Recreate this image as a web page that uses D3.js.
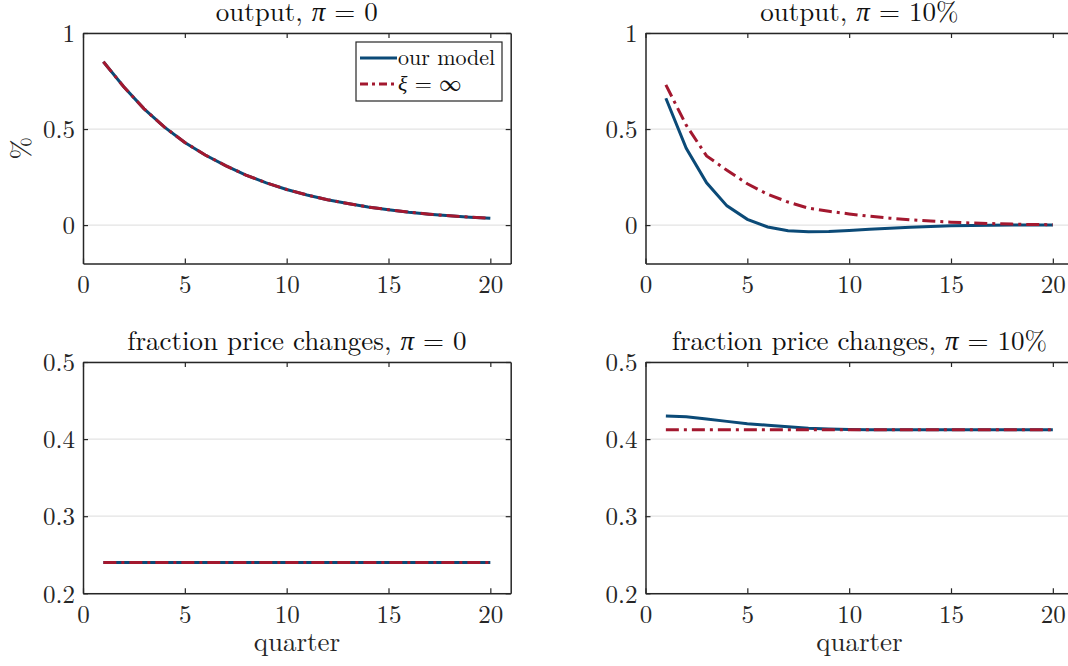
<!DOCTYPE html>
<html>
<head>
<meta charset="utf-8">
<script src="https://cdn.jsdelivr.net/npm/d3@7"></script>
<style>
  body { margin: 0; background: #fff; }
  svg { display: block; font-family: "Latin Modern Roman", "CMU Serif", "Liberation Serif", serif; }
  .axis path, .axis line { stroke: #262626; }
  .axis text { fill: #262626; }
</style>
</head>
<body>
<div id="chart"></div>
<script>
// quarters 1..20
var quarters = [1,2,3,4,5,6,7,8,9,10,11,12,13,14,15,16,17,18,19,20];

// output, pi = 0 (both series overlap)
var outModel0 = [0.85,0.72,0.605,0.51,0.43,0.365,0.31,0.26,0.22,0.185,0.157,0.132,0.112,0.094,0.08,0.067,0.057,0.048,0.041,0.035];
var outInf0   = [0.85,0.72,0.605,0.51,0.43,0.365,0.31,0.26,0.22,0.185,0.157,0.132,0.112,0.094,0.08,0.067,0.057,0.048,0.041,0.035];

// output, pi = 10%
var outModel10 = [0.66,0.40,0.22,0.10,0.03,-0.01,-0.03,-0.035,-0.033,-0.028,-0.022,-0.016,-0.011,-0.007,-0.004,-0.002,-0.001,0,0,0];
var outInf10   = [0.73,0.52,0.36,0.285,0.215,0.16,0.12,0.088,0.072,0.058,0.046,0.036,0.028,0.021,0.015,0.011,0.008,0.005,0.003,0.002];

// fraction of price changes
var fracModel0  = [0.24,0.24,0.24,0.24,0.24,0.24,0.24,0.24,0.24,0.24,0.24,0.24,0.24,0.24,0.24,0.24,0.24,0.24,0.24,0.24];
var fracInf0    = [0.24,0.24,0.24,0.24,0.24,0.24,0.24,0.24,0.24,0.24,0.24,0.24,0.24,0.24,0.24,0.24,0.24,0.24,0.24,0.24];
var fracModel10 = [0.430,0.429,0.426,0.423,0.420,0.418,0.416,0.414,0.413,0.4125,0.412,0.412,0.412,0.412,0.412,0.412,0.412,0.412,0.412,0.412];
var fracInf10   = [0.412,0.412,0.412,0.412,0.412,0.412,0.412,0.412,0.412,0.412,0.412,0.412,0.412,0.412,0.412,0.412,0.412,0.412,0.412,0.412];

var xTicks = [0,5,10,15,20];
var outTicks = [0,0.5,1];
var fracTicks = [0.2,0.3,0.4,0.5];

var blue = "#0b4a77", red = "#a3182f";
var tickSize = 25, labelSize = 27;

var svg = d3.select("#chart").append("svg")
    .attr("width", 1068)
    .attr("height", 666);

// each panel: box position, y domain, series, title pieces
var panels = [
    {x0: 83, x1: 510.7, y0: 33, y1: 263.5, ydom: [-0.2, 1], yt: outTicks, fmt: d3.format("~g"),
     model: outModel0, inf: outInf0, title: ["output, ", "π", " = 0"], ylabel: true, legend: true},
    {x0: 645.5, x1: 1073.2, y0: 33, y1: 263.5, ydom: [-0.2, 1], yt: outTicks, fmt: d3.format("~g"),
     model: outModel10, inf: outInf10, title: ["output, ", "π", " = 10%"]},
    {x0: 83, x1: 510.7, y0: 362, y1: 593.3, ydom: [0.2, 0.5], yt: fracTicks, fmt: d3.format(".1f"),
     model: fracModel0, inf: fracInf0, title: ["fraction price changes, ", "π", " = 0"], xlabel: true},
    {x0: 645.5, x1: 1073.2, y0: 362, y1: 593.3, ydom: [0.2, 0.5], yt: fracTicks, fmt: d3.format(".1f"),
     model: fracModel10, inf: fracInf10, title: ["fraction price changes, ", "π", " = 10%"], xlabel: true}
];

panels.forEach(function(p){
    var x = d3.scaleLinear().domain([0, 21]).range([p.x0, p.x1]);
    var y = d3.scaleLinear().domain(p.ydom).range([p.y1, p.y0]);
    var g = svg.append("g");

    // horizontal grid
    g.selectAll(".grid").data(p.yt).enter().append("line")
        .attr("x1", p.x0).attr("x2", p.x1)
        .attr("y1", function(d){ return y(d); })
        .attr("y2", function(d){ return y(d); })
        .attr("stroke", "#e3e3e3")
        .attr("stroke-width", 1.2);

    // axes, ticks pointing inwards
    var bottom = g.append("g").attr("class", "axis")
        .attr("transform", "translate(0," + p.y1 + ")")
        .call(d3.axisBottom(x).tickValues(xTicks).tickSizeInner(-5).tickSizeOuter(0).tickPadding(12));
    var top = g.append("g").attr("class", "axis")
        .attr("transform", "translate(0," + p.y0 + ")")
        .call(d3.axisTop(x).tickValues(xTicks).tickSizeInner(-5).tickSizeOuter(0).tickFormat(""));
    var left = g.append("g").attr("class", "axis")
        .attr("transform", "translate(" + p.x0 + ",0)")
        .call(d3.axisLeft(y).tickValues(p.yt).tickFormat(p.fmt).tickSizeInner(-5).tickSizeOuter(0).tickPadding(8));
    var right = g.append("g").attr("class", "axis")
        .attr("transform", "translate(" + p.x1 + ",0)")
        .call(d3.axisRight(y).tickValues(p.yt).tickSizeInner(-5).tickSizeOuter(0).tickFormat(""));

    [bottom, top, left, right].forEach(function(a){
        a.attr("font-family", null).attr("font-size", tickSize);
        a.select(".domain").attr("stroke-width", 1.5);
        a.selectAll(".tick line").attr("stroke-width", 1.2);
    });
    bottom.selectAll(".tick text").attr("dy", "0.71em");
    left.selectAll(".tick text").attr("dy", "0.35em");

    // series
    var line = d3.line()
        .x(function(d, i){ return x(quarters[i]); })
        .y(function(d){ return y(d); });

    g.append("path").datum(p.model)
        .attr("d", line)
        .attr("fill", "none")
        .attr("stroke", blue)
        .attr("stroke-width", 3);

    g.append("path").datum(p.inf)
        .attr("d", line)
        .attr("fill", "none")
        .attr("stroke", red)
        .attr("stroke-width", 3)
        .attr("stroke-dasharray", "13,5,3,5");

    // title
    var t = svg.append("text")
        .attr("x", (p.x0 + p.x1) / 2)
        .attr("y", p.y0 - 12)
        .attr("text-anchor", "middle")
        .attr("font-size", labelSize)
        .attr("fill", "#111");
    t.append("tspan").text(p.title[0]);
    t.append("tspan").attr("font-style", "italic").text(p.title[1]);
    t.append("tspan").text(p.title[2]);

    if (p.xlabel) {
        svg.append("text")
            .attr("x", (p.x0 + p.x1) / 2)
            .attr("y", 651)
            .attr("text-anchor", "middle")
            .attr("font-size", labelSize)
            .attr("fill", "#262626")
            .text("quarter");
    }

    if (p.ylabel) {
        svg.append("text")
            .attr("transform", "translate(30," + ((p.y0 + p.y1) / 2) + ") rotate(-90)")
            .attr("text-anchor", "middle")
            .attr("font-size", labelSize)
            .attr("fill", "#262626")
            .text("%");
    }

    if (p.legend) {
        var lg = svg.append("g").attr("transform", "translate(356,42)");
        lg.append("rect")
            .attr("width", 146).attr("height", 59)
            .attr("fill", "#fff")
            .attr("stroke", "#262626")
            .attr("stroke-width", 1.2);
        var items = [
            {label: ["our model", ""], color: blue, dash: null},
            {label: ["ξ", " = ∞"], color: red, dash: "8,4,3,4"}
        ];
        items.forEach(function(it, i){
            var yy = 16 + i * 26;
            lg.append("line")
                .attr("x1", 4).attr("x2", 41)
                .attr("y1", yy).attr("y2", yy)
                .attr("stroke", it.color)
                .attr("stroke-width", 3)
                .attr("stroke-dasharray", it.dash);
            var tx = lg.append("text")
                .attr("x", 42).attr("y", yy)
                .attr("dy", "0.32em")
                .attr("font-size", 22)
                .attr("fill", "#111");
            if (i === 0) {
                tx.text(it.label[0]);
            } else {
                tx.append("tspan").attr("font-style", "italic").text(it.label[0]);
                tx.append("tspan").text(it.label[1]);
            }
        });
    }
});
</script>
</body>
</html>
